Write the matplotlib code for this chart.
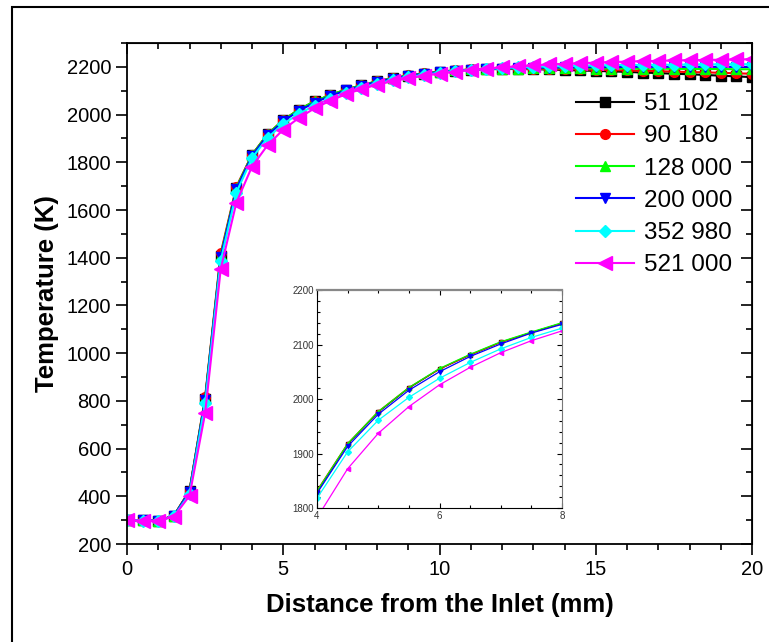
import matplotlib
matplotlib.use("Agg")
import matplotlib.pyplot as plt
from matplotlib.patches import Rectangle
from matplotlib.ticker import MultipleLocator

plt.rcParams['font.family'] = ['Liberation Sans', 'DejaVu Sans']

x = [0, 0.5, 1, 1.5, 2, 2.5, 3, 3.5, 4, 4.5, 5, 5.5, 6, 6.5, 7, 7.5,
     8, 8.5, 9, 9.5, 10, 10.5, 11, 11.5, 12, 12.5, 13, 13.5, 14, 14.5,
     15, 15.5, 16, 16.5, 17, 17.5, 18, 18.5, 19, 19.5, 20]

t_51102 = [300, 299, 298, 318, 422, 808, 1408, 1692, 1830, 1917, 1976, 2020, 2055, 2081, 2104, 2122,
           2139, 2152, 2163, 2172, 2179, 2184, 2188, 2190, 2191, 2191, 2190, 2189, 2187, 2185,
           2183, 2181, 2179, 2176, 2174, 2171, 2169, 2166, 2163, 2160, 2157]
t_90180 = [300, 299, 298, 319, 424, 815, 1420, 1698, 1832, 1918, 1977, 2021, 2055, 2081, 2104, 2122,
           2139, 2153, 2164, 2173, 2180, 2185, 2189, 2191, 2192, 2192, 2192, 2191, 2190, 2189,
           2188, 2186, 2185, 2183, 2182, 2180, 2178, 2177, 2175, 2173, 2171]
t_128000 = [300, 299, 298, 318, 423, 810, 1412, 1694, 1831, 1918, 1977, 2021, 2056, 2082, 2105, 2123,
            2140, 2153, 2164, 2173, 2180, 2185, 2189, 2191, 2193, 2193, 2194, 2194, 2194, 2194,
            2193, 2193, 2193, 2192, 2192, 2192, 2191, 2191, 2191, 2190, 2190]
t_200000 = [300, 299, 298, 318, 420, 805, 1405, 1688, 1827, 1913, 1972, 2016, 2050, 2078, 2101, 2121,
            2137, 2151, 2162, 2171, 2178, 2184, 2188, 2191, 2193, 2195, 2196, 2197, 2198, 2198,
            2199, 2199, 2200, 2200, 2200, 2200, 2200, 2200, 2200, 2200, 2200]
t_352980 = [300, 298, 297, 316, 410, 790, 1388, 1673, 1818, 1903, 1961, 2003, 2038, 2067, 2092, 2113,
            2130, 2145, 2157, 2167, 2175, 2182, 2187, 2192, 2195, 2198, 2200, 2202, 2203, 2205,
            2206, 2207, 2208, 2208, 2209, 2209, 2210, 2210, 2211, 2211, 2211]
t_521000 = [300, 298, 297, 315, 402, 748, 1353, 1631, 1782, 1872, 1937, 1986, 2026, 2058, 2085, 2107,
            2125, 2140, 2152, 2163, 2172, 2180, 2187, 2193, 2198, 2202, 2206, 2210, 2213, 2215,
            2218, 2220, 2222, 2224, 2225, 2227, 2228, 2229, 2230, 2231, 2232]

labels = ['51 102', '90 180', '128 000', '200 000', '352 980', '521 000']
series = [t_51102, t_90180, t_128000, t_200000, t_352980, t_521000]
colors = ['#000000', '#FF0000', '#00FF00', '#0000FF', '#00FFFF', '#FF00FF']
markers = ['s', 'o', '^', 'v', 'D', '<']
msizes = [6.5, 7, 7, 7, 6.5, 10]

fig = plt.figure(figsize=(7.69, 6.42), dpi=100)

# outer frame of the picture
fig.patches.append(Rectangle((12 / 769, -0.2), 2, 1.2 - 7 / 642, transform=fig.transFigure,
                             fill=False, edgecolor='black', linewidth=1.5))

ax = fig.add_axes([127 / 769, 1 - 544 / 642, 625 / 769, 501 / 642])
for y, lab, c, m, ms in zip(series, labels, colors, markers, msizes):
    ax.plot(x, y, color=c, marker=m, markersize=ms, linewidth=1.5, label=lab)

ax.set_xlim(0, 20)
ax.set_ylim(200, 2300)
ax.xaxis.set_major_locator(MultipleLocator(5))
ax.xaxis.set_minor_locator(MultipleLocator(1))
ax.yaxis.set_major_locator(MultipleLocator(200))
ax.yaxis.set_minor_locator(MultipleLocator(100))
ax.tick_params(which='both', direction='out', width=1.2, labelsize=14.5, top=False, right=False)
ax.tick_params(which='major', length=8)
ax.tick_params(which='minor', length=4.5)
ax.set_yticks([200, 400, 600, 800, 1000, 1200, 1400, 1600, 1800, 2000, 2200])
for s in ax.spines.values():
    s.set_linewidth(1.3)

# mirrored inward ticks on top and right
sec_x = ax.secondary_xaxis('top')
sec_x.xaxis.set_major_locator(MultipleLocator(5))
sec_x.xaxis.set_minor_locator(MultipleLocator(1))
sec_x.tick_params(which='both', direction='in', width=1.2, labeltop=False)
sec_x.tick_params(which='major', length=8)
sec_x.tick_params(which='minor', length=4.5)
sec_y = ax.secondary_yaxis('right')
sec_y.yaxis.set_major_locator(MultipleLocator(200))
sec_y.yaxis.set_minor_locator(MultipleLocator(100))
sec_y.tick_params(which='both', direction='in', width=1.2, labelright=False)
sec_y.tick_params(which='major', length=8)
sec_y.tick_params(which='minor', length=4.5)

ax.set_xlabel('Distance from the Inlet (mm)', fontsize=18.5, fontweight='bold', labelpad=10)
ax.set_ylabel('Temperature (K)', fontsize=18.5, fontweight='bold', labelpad=5)

ax.legend(loc='center left', bbox_to_anchor=(0.718, 0.717), frameon=False, fontsize=17.5,
          handlelength=2.4, handletextpad=0.4, labelspacing=0.42, borderpad=0, borderaxespad=0)

# inset zoom of 4-8 mm
ins = fig.add_axes([317 / 769, 1 - 508 / 642, 245 / 769, 218 / 642])
for y, c, m in zip(series, colors, markers):
    ins.plot(x, y, color=c, marker=m, markersize=3, linewidth=0.9)
ins.set_xlim(4, 8)
ins.set_ylim(1800, 2200)
ins.set_xticks([4, 6, 8])
ins.set_yticks([1800, 1900, 2000, 2100, 2200])
ins.xaxis.set_minor_locator(MultipleLocator(0.5))
ins.yaxis.set_minor_locator(MultipleLocator(20))
ins.tick_params(which='both', direction='in', top=True, right=True, width=0.8,
                labelsize=7, labelcolor='#333333', pad=2)
ins.tick_params(which='major', length=3.5)
ins.tick_params(which='minor', length=2)
for s in ins.spines.values():
    s.set_linewidth(0.8)
ins.spines['top'].set_color('#888888')
ins.spines['top'].set_linewidth(1.6)
ins.spines['right'].set_color('#777777')

fig.savefig('out.png', dpi=100)
